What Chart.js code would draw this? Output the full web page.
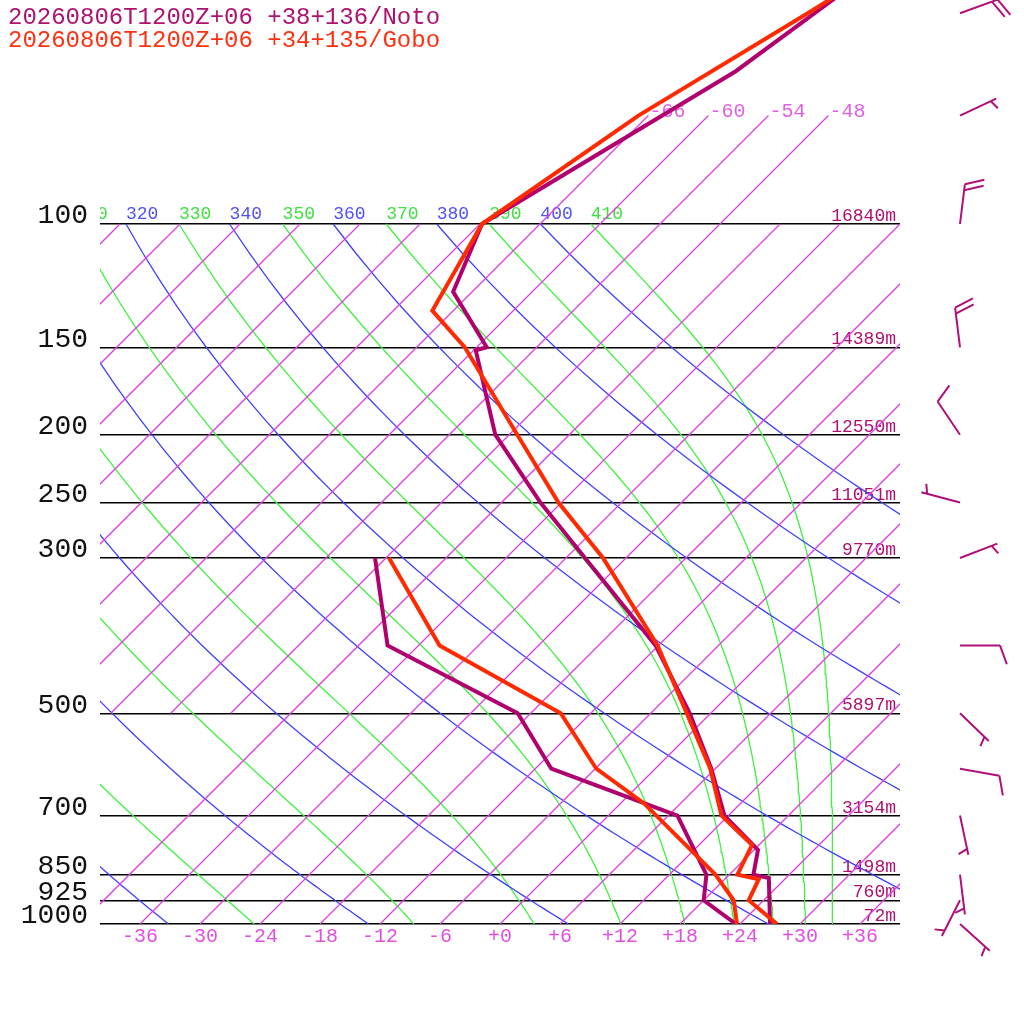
<!DOCTYPE html>
<html><head><meta charset="utf-8">
<script src="https://cdn.jsdelivr.net/npm/chart.js@4.4.1/dist/chart.umd.min.js"></script>
<style>html,body{margin:0;padding:0;background:#fff;}canvas{display:block;}</style>
</head><body>
<canvas id="c" width="1024" height="1024"></canvas>
<script>
// ---------------- data ----------------
const titleNoto = '20260806T1200Z+06 +38+136/Noto';
const titleGobo = '20260806T1200Z+06 +34+135/Gobo';

const pressureTicks = [100, 150, 200, 250, 300, 500, 700, 850, 925, 1000];
const heightLabels = ['16840m', '14389m', '12550m', '11051m', '9770m', '5897m', '3154m', '1498m', '760m', '72m'];
const tempTicks = [-36, -30, -24, -18, -12, -6, 0, 6, 12, 18, 24, 30, 36];
const isoTopLabels = [-66, -60, -54, -48];
const dryThetas = [240, 260, 280, 300, 320, 340, 360, 380, 400];
const moistThetas = [250, 270, 290, 310, 330, 350, 370, 390, 410];

// Noto sounding (hPa, degC)
const notoTempP = [1000, 860, 850, 784, 700, 600, 500, 400, 300, 250, 200, 151.5, 150, 125, 100, 60.5, 40];
const notoTemp  = [27.0, 22.3, 20.4, 18.4, 11.6, 5.6, -2.1, -12.3, -28.1, -38.1, -49.4, -59.8, -59.0, -67.9, -71.8, -61.7, -57.2];
const notoDewP  = [1000, 925, 850, 700, 600, 500, 400, 300];
const notoDew   = [23.6, 18.0, 15.7, 6.9, -10.4, -19.3, -39.1, -49.1];

// Gobo sounding (hPa, degC)
const goboTempP = [1000, 925, 863, 850, 771, 700, 600, 500, 400, 300, 250, 200, 150, 133, 100, 70, 50, 30];
const goboTemp  = [27.7, 22.5, 21.4, 18.8, 17.3, 11.3, 5.5, -2.4, -12.1, -26.3, -36.3, -47.2, -61.2, -68.1, -71.8, -67.0, -60.3, -51.0];
const goboDewP  = [1000, 925, 850, 672, 600, 500, 400, 300];
const goboDew   = [23.7, 21.0, 16.6, 2.3, -5.9, -15.0, -33.9, -47.7];

// Noto winds (hPa, direction deg, speed kt)
const windP   = [50, 70, 100, 150, 200, 250, 300, 400, 500, 600, 700, 850, 925, 1000];
const windDir = [70, 65, 7, 353, 326, 285, 69, 90, 134, 100, 168, 173, 207, 132];
const windKt  = [20, 5, 20, 20, 10, 5, 5, 10, 5, 10, 5, 5, 5, 5];

// ---------------- styling / helpers ----------------
const C_NOTO = '#b0006e', C_GOBO = '#ff2a00';
const C_ISO = 'rgb(224,64,224)', C_DRY = 'rgb(64,64,255)', C_MOIST = 'rgb(64,240,64)';
const FONT = '"Liberation Mono", "DejaVu Sans Mono", monospace';
const SKEW = 70;               // x-units per decade of pressure (45 deg isotherms)
const P_TOP = 1000 / Math.pow(10, 924 / 700);

const skewX = (T, p) => T + SKEW * Math.log10(1000 / p);
const toPts = (P, T) => P.map((p, i) => ({ x: skewX(T[i], p), y: p }));

function esat(Tc) { return 6.112 * Math.exp(17.67 * Tc / (Tc + 243.5)); }
function thetaESat(TK, p) {
  const es = esat(TK - 273.15);
  if (es >= p * 0.5) return 1e9;
  const r = 1000 * 0.622 * es / (p - es);
  return TK * Math.pow(1000 / p, 0.2854 * (1 - 0.00028 * r)) *
         Math.exp((3.376 / TK - 0.00254) * r * (1 + 0.00081 * r));
}
function moistT(te, p) {
  let lo = 120, hi = 345;
  for (let i = 0; i < 60; i++) { const m = (lo + hi) / 2; if (thetaESat(m, p) > te) hi = m; else lo = m; }
  return (lo + hi) / 2 - 273.15;
}
const curveP = []; for (let p = 1000; p >= 100; p -= 10) curveP.push(p);

const bg = (data, color) => ({ data, showLine: true, borderColor: color, backgroundColor: color, borderWidth: 1.3, pointRadius: 0, fill: false });
const snd = (data, color) => ({ data, showLine: true, borderColor: color, backgroundColor: color, borderWidth: 4, pointRadius: 0, fill: false, borderJoinStyle: 'miter' });

const datasets = [
  snd(toPts(goboTempP, goboTemp), C_GOBO),
  snd(toPts(goboDewP, goboDew), C_GOBO),
  snd(toPts(notoTempP, notoTemp), C_NOTO),
  snd(toPts(notoDewP, notoDew), C_NOTO),
];
// isotherms
for (let T = -108; T <= 36; T += 6) {
  const pb = T >= -42 ? 1000 : 500;
  const pt = (T >= -66 && T <= -48) ? 70 : 100;
  datasets.push(bg([{ x: skewX(T, pb), y: pb }, { x: skewX(T, pt), y: pt }], C_ISO));
}
// dry adiabats
dryThetas.forEach(th => datasets.push(bg(curveP.map(p => ({ x: skewX(th * Math.pow(p / 1000, 0.2857) - 273.15, p), y: p })), C_DRY)));
// moist adiabats
moistThetas.forEach(te => datasets.push(bg(curveP.map(p => ({ x: skewX(moistT(te, p), p), y: p })), C_MOIST)));

function drawBarb(ctx, x0, y0, dir, spd) {
  const rad = dir * Math.PI / 180;
  const ux = Math.sin(rad), uy = -Math.cos(rad);
  const L = 40, gap = 6;
  const tx = x0 + ux * L, ty = y0 + uy * L;
  const a = Math.atan2(uy, ux) + 70 * Math.PI / 180;
  const fx = Math.cos(a), fy = Math.sin(a);
  ctx.beginPath();
  ctx.moveTo(x0, y0); ctx.lineTo(tx, ty);
  const fulls = Math.floor(spd / 10), half = (spd % 10) >= 5;
  let pos = (fulls === 0 && half) ? gap : 0;
  for (let i = 0; i < fulls; i++) {
    const px = tx - ux * pos, py = ty - uy * pos;
    ctx.moveTo(px, py); ctx.lineTo(px + fx * 20, py + fy * 20); pos += gap;
  }
  if (half) {
    const px = tx - ux * pos, py = ty - uy * pos;
    ctx.moveTo(px, py); ctx.lineTo(px + fx * 10, py + fy * 10);
  }
  ctx.stroke();
}

const overlay = {
  id: 'overlay',
  beforeDatasetsDraw(chart) {
    const { ctx, chartArea: ca, scales: { x, y } } = chart;
    ctx.save();
    ctx.beginPath(); ctx.rect(ca.left, 0, ca.right - ca.left, chart.height); ctx.clip();
    ctx.textBaseline = 'alphabetic';
    ctx.textAlign = 'left';
    ctx.font = '18px ' + FONT;
    const y100 = y.getPixelForValue(100);
    dryThetas.forEach(th => {
      const px = x.getPixelForValue(skewX(th * Math.pow(0.1, 0.2857) - 273.15, 100));
      ctx.fillStyle = '#5050ff'; ctx.fillText(String(th), px, y100 - 5);
    });
    moistThetas.forEach(te => {
      const px = x.getPixelForValue(skewX(moistT(te, 100), 100));
      ctx.fillStyle = '#40e040'; ctx.fillText(String(te), px, y100 - 5);
    });
    // isotherm labels at top
    ctx.font = '20px ' + FONT;
    ctx.fillStyle = '#e060e8';
    const y70 = y.getPixelForValue(70);
    isoTopLabels.forEach(T => ctx.fillText(String(T), x.getPixelForValue(skewX(T, 70)) + 1, y70 + 1));
    // heights
    ctx.font = '18px ' + FONT;
    ctx.fillStyle = '#b0106e';
    ctx.textAlign = 'right';
    pressureTicks.forEach((p, i) => ctx.fillText(heightLabels[i], ca.right - 4, y.getPixelForValue(p) - 3));
    ctx.restore();
  },
  afterDraw(chart) {
    const { ctx, scales: { y } } = chart;
    ctx.save();
    ctx.font = '24px ' + FONT;
    ctx.textAlign = 'left'; ctx.textBaseline = 'alphabetic';
    ctx.fillStyle = '#b0106e'; ctx.fillText(titleNoto, 8, 24);
    ctx.fillStyle = '#ff3010'; ctx.fillText(titleGobo, 8, 47);
    ctx.strokeStyle = '#b0107a'; ctx.lineWidth = 2; ctx.lineCap = 'butt';
    windP.forEach((p, i) => drawBarb(ctx, 960, y.getPixelForValue(p), windDir[i], windKt[i]));
    ctx.restore();
  }
};

new Chart(document.getElementById('c'), {
  type: 'scatter',
  data: { datasets },
  options: {
    responsive: false, animation: false, devicePixelRatio: 1, events: [],
    layout: { padding: { left: 0, right: 124, top: 0, bottom: 0 } },
    plugins: { legend: { display: false }, tooltip: { enabled: false }, title: { display: false } },
    scales: {
      x: {
        type: 'linear', min: -40, max: 40, position: 'bottom',
        afterBuildTicks: s => { s.ticks = tempTicks.map(v => ({ value: v })); },
        afterFit: s => { s.height = 100; s.paddingLeft = 0; s.paddingRight = 0; },
        grid: { display: false, drawTicks: false }, border: { display: false },
        ticks: { callback: v => (v >= 0 ? '+' : '') + v, font: { family: FONT, size: 20 }, color: '#e050e0',
                 padding: 1, autoSkip: false, maxRotation: 0, minRotation: 0 }
      },
      y: {
        type: 'logarithmic', reverse: true, min: P_TOP, max: 1000, position: 'left',
        afterBuildTicks: s => { s.ticks = pressureTicks.map(v => ({ value: v })); },
        afterFit: s => { s.width = 100; s.paddingTop = 0; s.paddingBottom = 0; },
        grid: { color: '#000', lineWidth: 1.5, drawTicks: false }, border: { display: false },
        ticks: { callback: v => String(v), font: { family: FONT, size: 28 }, color: '#111',
                 padding: 12, labelOffset: -8, autoSkip: false }
      }
    }
  },
  plugins: [overlay]
});
</script>
</body></html>
